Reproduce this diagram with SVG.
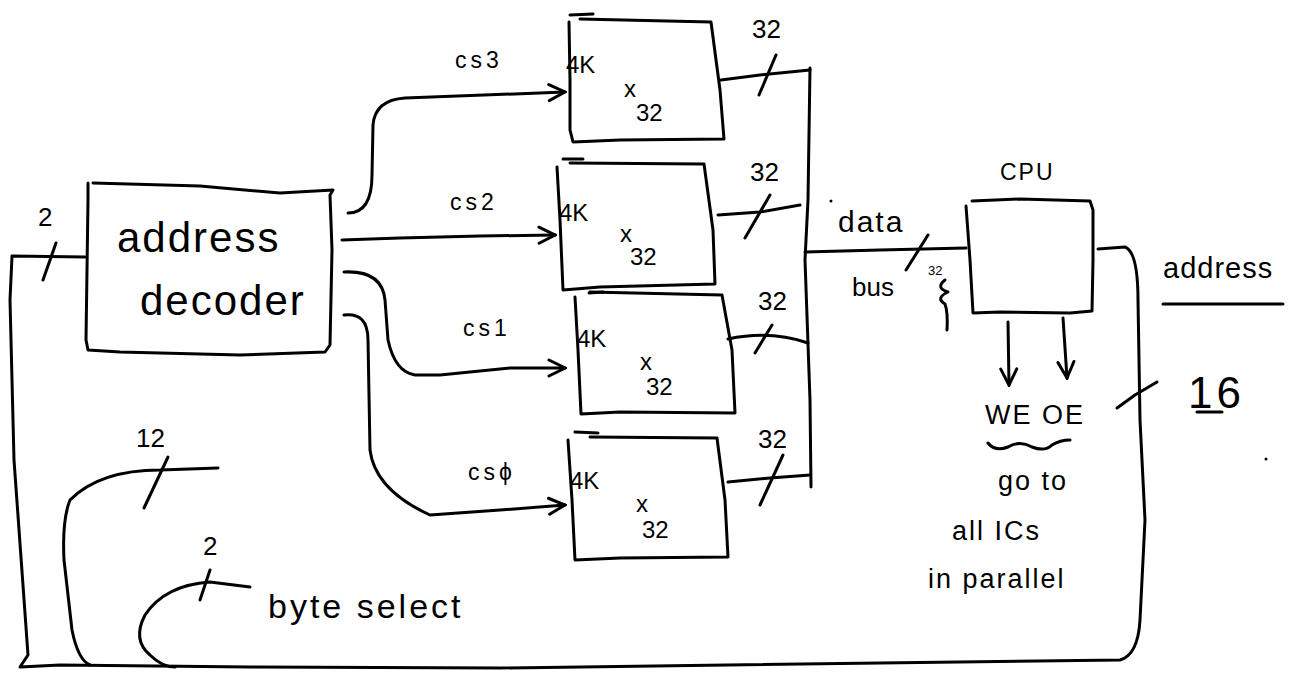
<svg xmlns="http://www.w3.org/2000/svg" width="1313" height="675" viewBox="0 0 1313 675">
<style>
.s{fill:none;stroke:#000;stroke-width:3;stroke-linecap:round;stroke-linejoin:round}
.t{font-family:"Liberation Sans",Arial,sans-serif;fill:#000}
.big{font-size:42px;letter-spacing:2px}
.md{font-size:26px}
.sm{font-size:24px}
.cs{font-size:23px;letter-spacing:4px}
.nt{font-size:27px;letter-spacing:2px}
.xs{font-size:13px}
</style>
<defs>
<marker id="ah" viewBox="0 0 20 20" refX="18" refY="10" markerWidth="20" markerHeight="20" markerUnits="userSpaceOnUse" orient="auto">
<path d="M2,2 L18,10 L2,18" fill="none" stroke="#000" stroke-width="3" stroke-linecap="round"/>
</marker>
</defs>
<rect width="1313" height="675" fill="#fff"/>

<g id="connectors">
<path class="s" d="M85,257 L12,256 L10,300 L14,460 L28,655 L20,667 L60,665 L250,667 L500,668 L1120,660 Q1138,655 1140,620 L1145,520 L1140,420 L1138,300 Q1138,252 1125,247 L1098,249"/>
<path class="s" d="M43,280 L56,243"/>
<text class="t md" x="38" y="226">2</text>
<path class="s" d="M218,468 L160,470 Q100,470 70,500 Q62,520 64,560 L72,630 Q78,660 90,665"/>
<path class="s" d="M144,508 L168,457"/>
<text class="t md" x="136" y="447">12</text>
<path class="s" d="M250,587 L210,582 Q165,585 145,615 Q132,640 150,655 Q162,667 175,667"/>
<path class="s" d="M200,600 L210,570"/>
<text class="t md" x="203" y="555">2</text>
<text class="t" style="font-size:34px;letter-spacing:3px" x="268" y="618">byte select</text>

<path class="s" marker-end="url(#ah)" d="M348,213 Q372,213 372,175 L373,125 Q375,100 405,98 L565,92"/>
<text class="t cs" x="455" y="68">cs3</text>
<path class="s" marker-end="url(#ah)" d="M342,240 L400,238 L480,236 L555,235"/>
<text class="t cs" x="450" y="210">cs2</text>
<path class="s" marker-end="url(#ah)" d="M344,272 Q382,270 385,300 L388,340 Q395,372 415,375 L440,375 L510,368 L565,368"/>
<text class="t cs" x="463" y="336">cs1</text>
<path class="s" marker-end="url(#ah)" d="M344,315 Q368,312 368,340 L370,450 Q375,490 430,515 L500,510 L565,505"/>
<text class="t cs" x="468" y="480">csϕ</text>

<path class="s" d="M721,80 L760,75 L810,70"/>
<path class="s" d="M759,95 L776,55"/>
<text class="t md" x="752" y="38">32</text>
<path class="s" d="M718,215 L760,212 L800,205"/>
<path class="s" d="M745,238 L770,195"/>
<text class="t md" x="750" y="181">32</text>
<path class="s" d="M728,339 Q770,330 808,343"/>
<path class="s" d="M755,353 L772,325"/>
<text class="t md" x="758" y="310">32</text>
<path class="s" d="M728,482 L770,478 L810,475"/>
<path class="s" d="M760,505 L783,455"/>
<text class="t md" x="758" y="448">32</text>
<path class="s" d="M810,68 L808,200 L805,260 L810,400 L811,487"/>
<path class="s" d="M805,252 L880,250 L966,248"/>
<path class="s" d="M906,270 L928,235"/>
<text class="t" style="font-size:30px;letter-spacing:2px" x="838" y="232">data</text>
<text class="t md" x="852" y="296">bus</text>
<text class="t xs" x="928" y="275">32</text>
<path class="s" d="M945,280 Q935,288 948,292 Q935,298 945,304 Q948,312 947,330" stroke-width="2"/>
<circle cx="831" cy="201" r="1.5" fill="#000"/>

<path class="s" marker-end="url(#ah)" d="M1008,322 L1009,385"/>
<path class="s" marker-end="url(#ah)" d="M1063,318 L1067,378"/>
<text class="t nt" x="985" y="424">WE OE</text>
<path class="s" stroke-width="2.5" d="M988,443 Q995,452 1008,447 Q1020,440 1032,447 Q1045,452 1052,445 Q1060,440 1070,440"/>
<text class="t nt" x="998" y="490">go to</text>
<text class="t nt" x="952" y="540">all ICs</text>
<text class="t nt" x="928" y="588">in parallel</text>

<path class="s" d="M1117,408 L1135,395 L1157,382"/>
<text class="t" style="font-size:44px;letter-spacing:4px" x="1188" y="408">16</text>
<path class="s" d="M1197,412 L1222,412" stroke-width="2"/>
<text class="t" style="font-size:29px;letter-spacing:1px" x="1163" y="278">address</text>
<path class="s" d="M1163,304 L1283,304"/>
<circle cx="1266" cy="459" r="1.5" fill="#000"/>
</g>

<g id="decoder">
<path class="s" d="M88,183 L88,200 L86,340 L88,350 L120,352 L240,355 L325,352 L330,345 L332,250 L330,195 L333,190 L280,193 L200,186 L93,183"/>
<text class="t big" x="117" y="252">address</text>
<text class="t big" x="140" y="315">decoder</text>
</g>

<g id="mem3">
<path class="s" d="M569,22 L570,80 L570,130 L573,142 L620,140 L724,139 L720,90 L711,22 L580,19"/>
<path class="s" d="M570,15 L593,14"/>
<text class="t sm" x="566" y="73">4K</text>
<text class="t sm" x="624" y="97">x</text>
<text class="t sm" x="636" y="121">32</text>
</g>
<g id="mem2">
<path class="s" d="M557,167 L560,220 L563,290 L600,287 L715,284 L713,230 L704,164 L570,163"/>
<path class="s" d="M563,159 L583,159"/>
<text class="t sm" x="559" y="221">4K</text>
<text class="t sm" x="620" y="242">x</text>
<text class="t sm" x="630" y="265">32</text>
</g>
<g id="mem1">
<path class="s" d="M575,297 L578,350 L581,414 L620,412 L735,413 L732,350 L722,295 L590,292"/>
<path class="s" d="M589,293 L603,292"/>
<text class="t sm" x="577" y="347">4K</text>
<text class="t sm" x="640" y="370">x</text>
<text class="t sm" x="646" y="395">32</text>
</g>
<g id="mem0">
<path class="s" d="M568,440 L572,500 L575,560 L620,558 L728,557 L725,500 L717,438 L590,437"/>
<path class="s" d="M575,432 L598,433"/>
<text class="t sm" x="570" y="489">4K</text>
<text class="t sm" x="636" y="512">x</text>
<text class="t sm" x="642" y="538">32</text>
</g>
<g id="cpu">
<path class="s" d="M966,206 L970,260 L973,313 L1000,312 L1070,313 L1092,311 L1093,260 L1093,210 L1090,201 L1020,199 L972,201"/>
<text class="t" style="font-size:23px;letter-spacing:2px" x="1000" y="180">CPU</text>
</g>
</svg>
